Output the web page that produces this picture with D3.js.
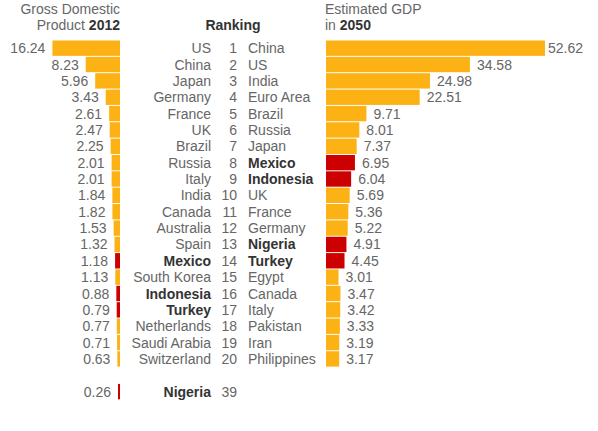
<!DOCTYPE html>
<html>
<head>
<meta charset="utf-8">
<script src="https://cdn.jsdelivr.net/npm/d3@7"></script>
<style>
  body { margin: 0; background: #fff; }
  svg text { font-family: "Liberation Sans", Arial, Helvetica, sans-serif; }
</style>
</head>
<body>
<div id="plot"></div>
<script>
// ranking 2012 (left) and estimated 2050 (right)
const countries2012 = ["US","China","Japan","Germany","France","UK","Brazil","Russia","Italy","India",
  "Canada","Australia","Spain","Mexico","South Korea","Indonesia","Turkey","Netherlands","Saudi Arabia","Switzerland","Nigeria"];
const values2012 = [16.24,8.23,5.96,3.43,2.61,2.47,2.25,2.01,2.01,1.84,1.82,1.53,1.32,1.18,1.13,0.88,0.79,0.77,0.71,0.63,0.26];
const ranks2012 = [1,2,3,4,5,6,7,8,9,10,11,12,13,14,15,16,17,18,19,20,39];

const countries2050 = ["China","US","India","Euro Area","Brazil","Russia","Japan","Mexico","Indonesia","UK",
  "France","Germany","Nigeria","Turkey","Egypt","Canada","Italy","Pakistan","Iran","Philippines"];
const values2050 = [52.62,34.58,24.98,22.51,9.71,8.01,7.37,6.95,6.04,5.69,5.36,5.22,4.91,4.45,3.01,3.47,3.42,3.33,3.19,3.17];

const highlight = ["Mexico","Indonesia","Turkey","Nigeria"];

function main(){
  const width = 598, height = 431;
  const orange = "#fcb214", red = "#cc0000";

  const svg = d3.select("#plot").append("svg")
    .attr("width", width).attr("height", height);

  // row positions: 20 ranks, a gap, then Nigeria's row
  const rowIdx = ranks2012.map((r, i) => i < 20 ? i : 21);
  const y = d3.scaleBand().domain(d3.range(22)).range([39.5, 39.5 + 22 * 16.4]).padding(0.06);
  const x = d3.scaleLinear().domain([0, 52.62]).range([0, 219]);
  const w = d => Math.max(2, x(d));

  const leftEdge = 120, rightEdge = 326;
  const col = c => highlight.includes(c) ? red : orange;

  // headers
  const hdr = svg.append("g").attr("font-size", 14).attr("fill", "#666");
  hdr.append("text").attr("x", leftEdge).attr("y", 14).attr("text-anchor", "end").text("Gross Domestic");
  const t1 = hdr.append("text").attr("x", leftEdge).attr("y", 30).attr("text-anchor", "end");
  t1.append("tspan").text("Product ");
  t1.append("tspan").attr("font-weight", "bold").attr("fill", "#333").text("2012");
  hdr.append("text").attr("x", 233).attr("y", 30).attr("text-anchor", "middle")
    .attr("font-weight", "bold").attr("fill", "#333").text("Ranking");
  hdr.append("text").attr("x", rightEdge - 1).attr("y", 14).text("Estimated GDP");
  const t2 = hdr.append("text").attr("x", rightEdge - 1).attr("y", 30);
  t2.append("tspan").text("in ");
  t2.append("tspan").attr("font-weight", "bold").attr("fill", "#333").text("2050");

  // left bars
  const left = svg.append("g");
  left.selectAll("rect").data(values2012).join("rect")
    .attr("x", d => leftEdge - w(d))
    .attr("y", (d, i) => y(rowIdx[i]))
    .attr("width", d => w(d))
    .attr("height", y.bandwidth())
    .attr("fill", (d, i) => col(countries2012[i]));
  left.selectAll("text").data(values2012).join("text")
    .attr("x", d => leftEdge - w(d) - 7)
    .attr("y", (d, i) => y(rowIdx[i]) + y.bandwidth() / 2)
    .attr("dy", "0.36em")
    .attr("text-anchor", "end")
    .attr("font-size", 14).attr("fill", "#666")
    .text(d => d.toFixed(2));

  // centre ranking
  const mid = svg.append("g").attr("font-size", 14);
  mid.selectAll("text.c12").data(countries2012).join("text").attr("class", "c12")
    .attr("x", 211)
    .attr("y", (d, i) => y(rowIdx[i]) + y.bandwidth() / 2)
    .attr("dy", "0.36em").attr("text-anchor", "end")
    .attr("font-weight", d => highlight.includes(d) ? "bold" : null)
    .attr("fill", d => highlight.includes(d) ? "#333" : "#666")
    .text(d => d);
  mid.selectAll("text.rk").data(ranks2012).join("text").attr("class", "rk")
    .attr("x", 237)
    .attr("y", (d, i) => y(rowIdx[i]) + y.bandwidth() / 2)
    .attr("dy", "0.36em").attr("text-anchor", "end")
    .attr("fill", "#666")
    .text(d => d);
  mid.selectAll("text.c50").data(countries2050).join("text").attr("class", "c50")
    .attr("x", 248)
    .attr("y", (d, i) => y(i) + y.bandwidth() / 2)
    .attr("dy", "0.36em")
    .attr("font-weight", d => highlight.includes(d) ? "bold" : null)
    .attr("fill", d => highlight.includes(d) ? "#333" : "#666")
    .text(d => d);

  // right bars
  const right = svg.append("g");
  right.selectAll("rect").data(values2050).join("rect")
    .attr("x", rightEdge)
    .attr("y", (d, i) => y(i))
    .attr("width", d => w(d))
    .attr("height", y.bandwidth())
    .attr("fill", (d, i) => col(countries2050[i]));
  right.selectAll("text").data(values2050).join("text")
    .attr("x", (d, i) => rightEdge + w(d) + (i === 0 ? 3 : 7))
    .attr("y", (d, i) => y(i) + y.bandwidth() / 2)
    .attr("dy", "0.36em")
    .attr("font-size", 14).attr("fill", "#666")
    .text(d => d.toFixed(2));
}
window.addEventListener("load", main);
</script>
</body>
</html>
